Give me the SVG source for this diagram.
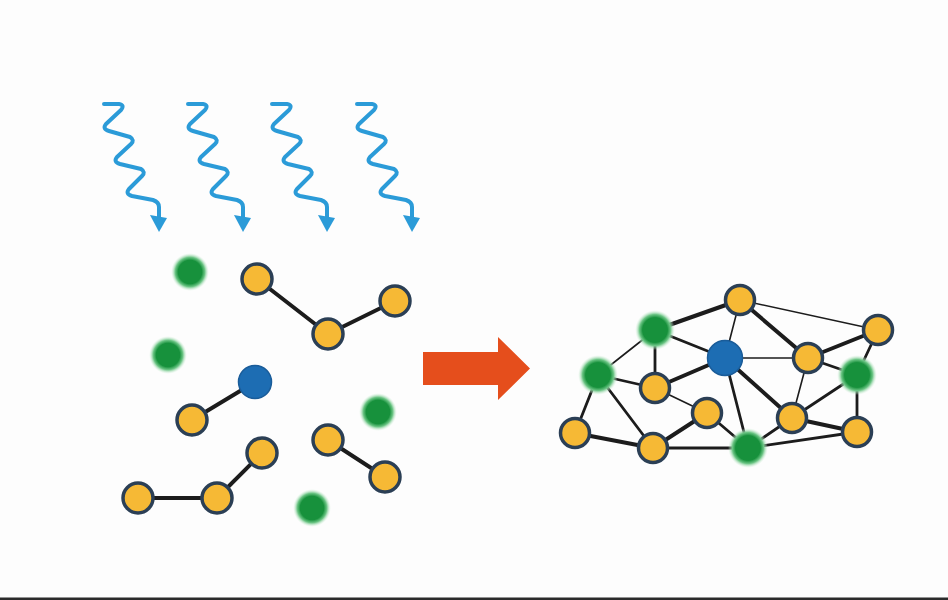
<svg xmlns="http://www.w3.org/2000/svg" width="948" height="600" viewBox="0 0 948 600">
<defs>
<style>
.y{fill:#f6b935;stroke:#2b3f55;stroke-width:3.5}
.b{fill:#1d6db3;stroke:#1a5c99;stroke-width:1.5}
.g{fill:url(#gGlow)}
.wave{fill:none;stroke:#2b9bd8;stroke-width:4;stroke-linejoin:round;stroke-linecap:round}
.head{fill:#2b9bd8}
.e{stroke:#1c1c1c;fill:none;stroke-linecap:round}
.t1{stroke-width:1.6}
.t2{stroke-width:2.8}
.t3{stroke-width:4}
</style>
<radialGradient id="gGlow">
<stop offset="0" stop-color="#17913c"/>
<stop offset="0.62" stop-color="#17913c"/>
<stop offset="0.78" stop-color="#6cc585"/>
<stop offset="1" stop-color="#d9f2df" stop-opacity="0"/>
</radialGradient>
<g id="wv">
<path class="wave" d="M104,104 L119,104 Q125,105 121,110 L106,124 Q102,129 109,131 L130,137 Q135,140 131,144 L117,157 Q113,162 120,164 L141,169 Q146,172 142,176 L129,189 Q125,194 132,196 L153,200 Q159,202 159,207 L159,218"/>
<polygon class="head" points="150,215 167,218 159,232"/>
</g>
</defs>
<rect width="948" height="600" fill="#fdfdfd"/>
<rect x="0" y="597.5" width="948" height="2.5" fill="#2b2b2b"/>
<g id="light">
<use href="#wv"/>
<use href="#wv" transform="translate(84,0)"/>
<use href="#wv" transform="translate(168,0)"/>
<use href="#wv" transform="translate(253,0)"/>
</g>
<g id="connectors">
<line class="e t3" x1="257" y1="279" x2="328" y2="334"/>
<line class="e t3" x1="328" y1="334" x2="395" y2="301"/>
<line class="e t3" x1="255" y1="382" x2="192" y2="420"/>
<line class="e t3" x1="328" y1="440" x2="385" y2="477"/>
<line class="e t3" x1="262" y1="453" x2="217" y2="498"/>
<line class="e t3" x1="217" y1="498" x2="138" y2="498"/>
<line class="e t3" x1="740" y1="300" x2="655" y2="330"/>
<line class="e t1" x1="740" y1="300" x2="878" y2="330"/>
<line class="e t1" x1="740" y1="300" x2="725" y2="358"/>
<line class="e t3" x1="740" y1="300" x2="808" y2="358"/>
<line class="e t1" x1="655" y1="330" x2="598" y2="375"/>
<line class="e t2" x1="655" y1="330" x2="655" y2="388"/>
<line class="e t2" x1="655" y1="330" x2="725" y2="358"/>
<line class="e t3" x1="878" y1="330" x2="808" y2="358"/>
<line class="e t2" x1="878" y1="330" x2="857" y2="375"/>
<line class="e t1" x1="725" y1="358" x2="808" y2="358"/>
<line class="e t3" x1="725" y1="358" x2="655" y2="388"/>
<line class="e t3" x1="725" y1="358" x2="792" y2="418"/>
<line class="e t2" x1="725" y1="358" x2="748" y2="448"/>
<line class="e t2" x1="808" y1="358" x2="857" y2="375"/>
<line class="e t1" x1="808" y1="358" x2="792" y2="418"/>
<line class="e t2" x1="598" y1="375" x2="655" y2="388"/>
<line class="e t2" x1="598" y1="375" x2="575" y2="433"/>
<line class="e t2" x1="598" y1="375" x2="653" y2="448"/>
<line class="e t1" x1="655" y1="388" x2="707" y2="413"/>
<line class="e t2" x1="857" y1="375" x2="792" y2="418"/>
<line class="e t2" x1="857" y1="375" x2="857" y2="432"/>
<line class="e t3" x1="707" y1="413" x2="653" y2="448"/>
<line class="e t2" x1="707" y1="413" x2="748" y2="448"/>
<line class="e t2" x1="792" y1="418" x2="748" y2="448"/>
<line class="e t3" x1="792" y1="418" x2="857" y2="432"/>
<line class="e t3" x1="575" y1="433" x2="653" y2="448"/>
<line class="e t2" x1="653" y1="448" x2="748" y2="448"/>
<line class="e t2" x1="748" y1="448" x2="857" y2="432"/>
</g>
<g id="arrow"><polygon points="423,352 498,352 498,337 530,368.5 498,400 498,385 423,385" fill="#e54e1c"/></g>
<g id="L-g1"><circle class="g" cx="190" cy="272" r="19"/></g>
<g id="L-g2"><circle class="g" cx="168" cy="355" r="19"/></g>
<g id="L-g3"><circle class="g" cx="378" cy="412" r="19"/></g>
<g id="L-g4"><circle class="g" cx="312" cy="508" r="19"/></g>
<g id="L-a"><circle class="y" cx="257" cy="279" r="15"/></g>
<g id="L-b"><circle class="y" cx="328" cy="334" r="15"/></g>
<g id="L-c"><circle class="y" cx="395" cy="301" r="15"/></g>
<g id="L-blue"><circle class="b" cx="255" cy="382" r="16.5"/></g>
<g id="L-d"><circle class="y" cx="192" cy="420" r="15"/></g>
<g id="L-e"><circle class="y" cx="328" cy="440" r="15"/></g>
<g id="L-f"><circle class="y" cx="385" cy="477" r="15"/></g>
<g id="L-g"><circle class="y" cx="262" cy="453" r="15"/></g>
<g id="L-h"><circle class="y" cx="217" cy="498" r="15"/></g>
<g id="L-i"><circle class="y" cx="138" cy="498" r="15"/></g>
<g id="R-1"><circle class="y" cx="740" cy="300" r="14.5"/></g>
<g id="R-2"><circle class="g" cx="655" cy="330" r="20"/></g>
<g id="R-3"><circle class="y" cx="878" cy="330" r="14.5"/></g>
<g id="R-4"><circle class="b" cx="725" cy="358" r="17.5"/></g>
<g id="R-5"><circle class="y" cx="808" cy="358" r="14.5"/></g>
<g id="R-6"><circle class="g" cx="598" cy="375" r="20"/></g>
<g id="R-7"><circle class="y" cx="655" cy="388" r="14.5"/></g>
<g id="R-8"><circle class="g" cx="857" cy="375" r="20"/></g>
<g id="R-9"><circle class="y" cx="707" cy="413" r="14.5"/></g>
<g id="R-10"><circle class="y" cx="792" cy="418" r="14.5"/></g>
<g id="R-11"><circle class="y" cx="575" cy="433" r="14.5"/></g>
<g id="R-12"><circle class="y" cx="653" cy="448" r="14.5"/></g>
<g id="R-13"><circle class="g" cx="748" cy="448" r="20"/></g>
<g id="R-14"><circle class="y" cx="857" cy="432" r="14.5"/></g>
</svg>
